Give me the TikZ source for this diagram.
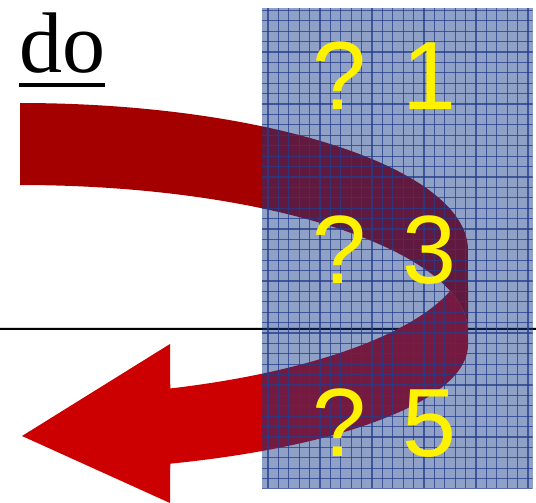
\documentclass[tikz,border=0pt]{standalone}
\usepackage{fontspec}
\setmainfont{Liberation Serif}
\newfontfamily\arialf{Liberation Sans}
\definecolor{banddark}{RGB}{165,0,0}
\definecolor{bandlight}{RGB}{204,0,0}
\definecolor{gridfill}{RGB}{19,56,137}
\definecolor{gridline}{RGB}{35,60,140}
\tikzset{
  qtext/.style={anchor=base west, inner sep=0pt, text=yellow, font=\arialf\fontsize{97}{97}\selectfont},
  dotext/.style={anchor=base west, inner sep=0pt, text=black, font=\fontsize{86}{86}\selectfont},
}
\begin{document}
\begin{tikzpicture}[x=1pt,y=-1pt]
\useasboundingbox (0,0) rectangle (536,503);
% horizontal rule
\draw[yellow, line width=0.8pt] (0,327.2) -- (536,327.2);
\draw[black, line width=1.8pt] (0,328.9) -- (536,328.9);
% curved arrow: upper (dark) band
\fill[banddark] plot[domain=-90:0,samples=80] ({20+448*cos(\x)},{250+147*sin(\x)})
  -- (468,332)
  -- plot[domain=0:-90,samples=80] ({20+448*cos(\x)},{332+147*sin(\x)}) -- cycle;
% lower (light) band with head
\fill[bandlight] plot[domain=-16.2:0,samples=20] ({20+448*cos(\x)},{332+147*sin(\x)})
  -- (468,345)
  -- plot[domain=0:70.4,samples=60] ({20+448*cos(\x)},{345+126*sin(\x)})
  -- (170,503) -- (22,436) -- (170,344)
  -- plot[domain=70.4:16.2,samples=60] ({20+448*cos(\x)},{250+147*sin(\x)}) -- cycle;
% grid panel
\fill[gridfill, opacity=0.47] (262,8) rectangle (532.5,488);
\begin{scope}
\clip (262,8) rectangle (532.5,488);
\foreach \k in {0,...,25} \draw[gridline, opacity=0.75, line width=1.2pt] ({268+10.4*\k},8) -- ({268+10.4*\k},488);
\foreach \k in {0,...,46} \draw[gridline, opacity=0.75, line width=1.2pt] (262,{10.5+10.4*\k}) -- (532.5,{10.5+10.4*\k});
\end{scope}
% texts
\node[dotext] (do) at (19,73) {do};
\draw[black, line width=3.5pt] ([yshift=-12pt]do.base west) -- ([yshift=-12pt]do.base east);
\node[qtext] (q1) at (312,110) {? 1};
\node[qtext] (q3) at (312,283) {? 3};
\node[qtext] (q5) at (312,456) {? 5};
\end{tikzpicture}
\end{document}
